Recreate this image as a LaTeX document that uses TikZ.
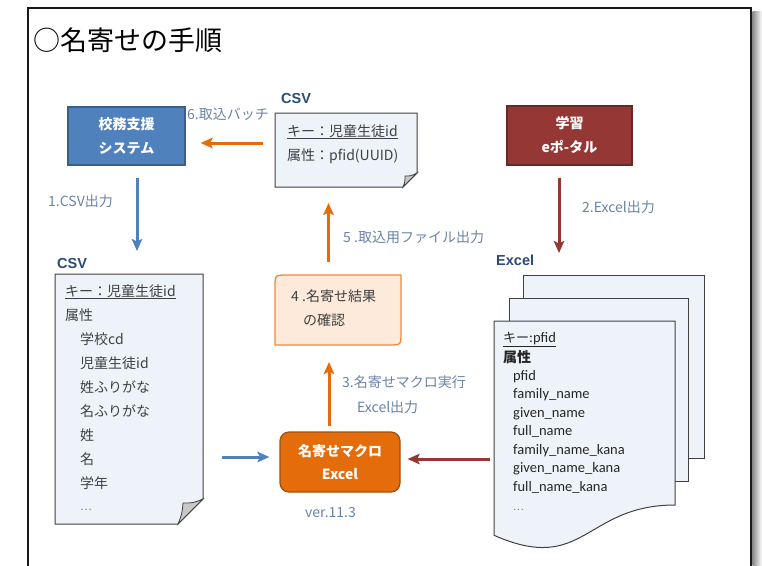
\documentclass[tikz,border=0pt]{standalone}
\usepackage{fontspec}
\setmainfont{Carlito}
\newfontfamily\jp{Noto Sans CJK JP}
\newfontfamily\lsans{Liberation Sans}
\usetikzlibrary{arrows.meta}
\definecolor{kbblue}{HTML}{4F81BD}
\definecolor{kbborder}{HTML}{3A5F8C}
\definecolor{dred}{HTML}{953735}
\definecolor{dredb}{HTML}{6B2726}
\definecolor{orng}{HTML}{E46C0A}
\definecolor{orngb}{HTML}{A0500E}
\definecolor{peach}{HTML}{FDEADA}
\definecolor{peachb}{HTML}{F08A3A}
\definecolor{docfill}{HTML}{EEF3FA}
\definecolor{docline}{HTML}{404040}
\definecolor{foldgray}{HTML}{C8C8C8}
\definecolor{lbl}{HTML}{6A83A9}
\definecolor{hdr}{HTML}{2A4A78}
\definecolor{txt}{HTML}{404040}
\definecolor{xtxt}{HTML}{262626}
\definecolor{frame}{HTML}{1A1A1A}
\tikzset{
  sysbox/.style={draw, line width=1.2pt, text=white, align=center, inner sep=0pt,
    font=\jp\bfseries\fontsize{14}{24}\selectfont},
  docshape/.style={draw=docline, fill=docfill, line width=1pt},
  foldflap/.style={draw=docline, fill=foldgray, line width=0.8pt},
  ghost/.style={inner sep=0pt, outer sep=0pt},
  lblt/.style={font=\jp\fontsize{14}{17}\selectfont, text=lbl, inner sep=0pt, anchor=west},
  doct/.style={font=\jp\fontsize{14}{17}\selectfont, text=txt, inner sep=0pt, anchor=base west},
  xlt/.style={font=\fontsize{14.5}{17}\selectfont, text=xtxt, inner sep=0pt, anchor=base west},
  hdrt/.style={font=\lsans\bfseries\fontsize{14.5}{16}\selectfont, text=hdr, inner sep=0pt, anchor=west},
  arr/.style={line width=3pt, -{Stealth[length=12pt,width=10.5pt,inset=2.5pt]}},
  barrow/.style={arr, draw=kbblue},
  oarrow/.style={arr, draw=orng},
  rarrow/.style={arr, draw=dred},
}
\begin{document}
\begin{tikzpicture}[x=1pt,y=-1pt]
\useasboundingbox (0,0) rectangle (762,565);
% frame with shadow
\fill[left color=black!45, right color=white] (752.5,11) rectangle (762,566);
\draw[line width=2.6pt, color=frame] (28,570) -- (28,8) -- (751,8) -- (751,570);
% title
\node[anchor=base west, inner sep=0pt, font=\jp\fontsize{27}{30}\selectfont, text=black] (title) at (33,50) {○名寄せの手順};

% system boxes
\node[sysbox, fill=kbblue, draw=kbborder, minimum width=117pt, minimum height=58pt] (kb) at (126.5,136) {校務支援\\システム};
\node[sysbox, fill=dred, draw=dredb, minimum width=125pt, minimum height=59pt] (ep) at (569.5,135.5) {学習\\eポ-タル};
\node[sysbox, fill=orng, draw=orngb, rounded corners=9pt, minimum width=120pt, minimum height=60pt,
  font=\jp\bfseries\fontsize{14}{23}\selectfont] (mc) at (340,462) {名寄せマクロ\\Excel};

% check box (4)
\node[ghost, minimum width=126pt, minimum height=70pt] (chk) at (338,310) {};
\draw[fill=peach, draw=peachb, line width=1.3pt]
  (chk.north east) -- ([yshift=12pt]chk.south east) .. controls (chk.south east) .. ([xshift=-12pt]chk.south east)
  -- (chk.south west) -- ([yshift=-12pt]chk.north west) .. controls (chk.north west) .. ([xshift=12pt]chk.north west) -- cycle;
\node[anchor=west, inner sep=0pt, font=\jp\fontsize{14}{17}\selectfont, text=txt] (chk1) at (291,296) {4 .名寄せ結果};
\node[anchor=west, inner sep=0pt, font=\jp\fontsize{14}{17}\selectfont, text=txt] (chk2) at (303,320) {の確認};

% top CSV document
\node[ghost, minimum width=142pt, minimum height=74pt] (csvt) at (346,150) {};
\draw[docshape] (csvt.north west) -- (csvt.north east) -- ([yshift=14pt]csvt.south east)
  -- ([xshift=-14pt]csvt.south east) -- (csvt.south west) -- cycle;
\draw[foldflap] ([yshift=14pt]csvt.south east) .. controls ([xshift=-6pt,yshift=11pt]csvt.south east) .. ([xshift=-12pt,yshift=11pt]csvt.south east)
  .. controls ([xshift=-12pt,yshift=5pt]csvt.south east) .. ([xshift=-14pt]csvt.south east) -- cycle;
\node[hdrt] (hcsvt) at (281,99) {CSV};
\node[doct] (t1) at (287,136) {\underline{キー：児童生徒id}};
\node[doct] (t2) at (287,160) {属性：pfid(UUID)};

% left CSV document
\node[ghost, minimum width=148pt, minimum height=250pt] (csvl) at (129,399) {};
\draw[docshape] (csvl.north west) -- (csvl.north east) -- ([yshift=25pt]csvl.south east)
  -- ([xshift=-25pt]csvl.south east) -- (csvl.south west) -- cycle;
\draw[foldflap] ([yshift=25pt]csvl.south east) .. controls ([xshift=-10pt,yshift=21pt]csvl.south east) .. ([xshift=-20pt,yshift=21pt]csvl.south east)
  .. controls ([xshift=-21pt,yshift=10pt]csvl.south east) .. ([xshift=-25pt]csvl.south east) -- cycle;
\node[hdrt] (hcsvl) at (57,264) {CSV};
\node[doct] (c1) at (65,296) {\underline{キー：児童生徒id}};
\node[doct] (c2) at (65,320) {属性};
\foreach \t [count=\i from 3] in {学校cd,児童生徒id,姓ふりがな,名ふりがな,姓,名,学年}
  \node[doct] (c\i) at (80,{296+24*(\i-1)}) {\t};
\node[doct, text=gray, font=\jp\fontsize{11}{13}\selectfont] (c10) at (80,510) {…};

% Excel stack
\node[ghost, minimum width=181pt, minimum height=183pt] (xb) at (613.5,366.5) {};
\draw[docshape] (xb.north west) rectangle (xb.south east);
\node[ghost, minimum width=179pt, minimum height=183pt] (xm) at (598.5,389.5) {};
\draw[docshape] (xm.north west) rectangle (xm.south east);
\node[ghost, minimum width=181pt, minimum height=229.4pt] (xf) at (584.5,435.7) {};
\draw[docshape] (xf.north west) -- (xf.north east) -- ([yshift=45.4pt]xf.south east)
  .. controls ([yshift=45.4pt]xf.south) and ([yshift=-24.7pt]xf.south) .. ([yshift=15.1pt]xf.south west) -- cycle;
\node[hdrt] (hxl) at (496,260) {Excel};
\node[xlt] (x1) at (503,342) {\underline{{\jp\fontsize{13}{15}\selectfont キー}:pfid}};
\node[xlt, font=\jp\bfseries\fontsize{14}{17}\selectfont] (x2) at (503,362) {属性};
\foreach \t [count=\i from 3] in {pfid,family\_name,given\_name,full\_name,family\_name\_kana,given\_name\_kana,full\_name\_kana}
  \node[xlt] (x\i) at (513,{380+18.5*(\i-3)}) {\t};
\node[xlt, text=gray, font=\jp\fontsize{10}{12}\selectfont] (x10) at (513,510) {…};

% arrows
\draw[oarrow, shorten <=12pt, shorten >=15pt] ([yshift=7pt]csvt.west) -- ([yshift=-7pt]kb.east);
\draw[barrow, shorten <=12pt, shorten >=23pt] ([xshift=10.5pt]kb.south) -- ([xshift=10.5pt]kb.south |- csvl.north);
\draw[rarrow, shorten <=12pt, shorten >=22pt] ([xshift=-10.5pt]ep.south) -- ([xshift=-10.5pt]ep.south |- xb.north);
\draw[oarrow, shorten <=13pt, shorten >=16pt] ([xshift=-9.5pt]chk.north) -- ([xshift=-9.5pt]chk.north |- csvt.south);
\draw[oarrow, shorten <=5pt, shorten >=17pt] ([xshift=-11pt]mc.north) -- ([xshift=-11pt]mc.north |- chk.south);
\draw[barrow, shorten <=19pt, shorten >=10pt] ([yshift=5pt]mc.west -| csvl.east) -- ([yshift=5pt]mc.west);
\draw[rarrow, shorten <=4pt, shorten >=7pt] ([yshift=3pt]mc.east -| xf.west) -- ([yshift=3pt]mc.east);

% arrow labels
\node[lblt] (l6) at (187,114) {6.取込バッチ};
\node[lblt] (l1) at (48,201) {1.CSV出力};
\node[lblt] (l2) at (582,207) {2.Excel出力};
\node[lblt] (l5) at (343,237) {5 .取込用ファイル出力};
\node[lblt] (l3a) at (342,382) {3.名寄せマクロ実行};
\node[lblt] (l3b) at (357,407) {Excel出力};
\node[lblt] (ver) at (305,512) {ver.11.3};
\end{tikzpicture}
\end{document}
